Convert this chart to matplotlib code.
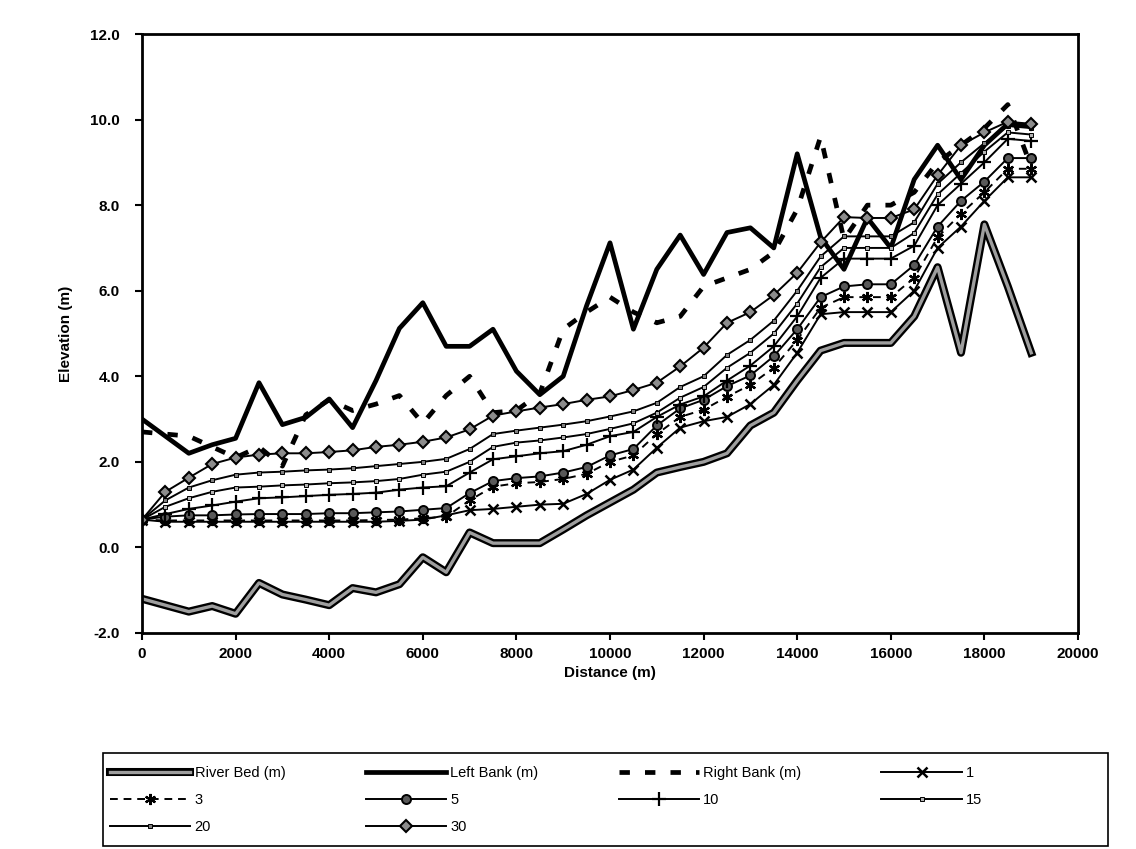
import matplotlib
matplotlib.use('Agg')
import matplotlib.pyplot as plt
from matplotlib.lines import Line2D
from matplotlib.patches import Rectangle

plt.rcParams['font.family'] = ['Liberation Sans', 'DejaVu Sans']

# distance along the river (m)
distance = [0, 500, 1000, 1500, 2000, 2500, 3000, 3500, 4000, 4500,
            5000, 5500, 6000, 6500, 7000, 7500, 8000, 8500, 9000, 9500,
            10000, 10500, 11000, 11500, 12000, 12500, 13000, 13500, 14000, 14500,
            15000, 15500, 16000, 16500, 17000, 17500, 18000, 18500, 19000]

river_bed = [-1.2, -1.35, -1.5, -1.37, -1.55, -0.83, -1.1, -1.22, -1.35, -0.95,
             -1.05, -0.86, -0.23, -0.58, 0.35, 0.1, 0.1, 0.1, 0.42, 0.75,
             1.05, 1.35, 1.75, 1.88, 2.0, 2.2, 2.85, 3.15, 3.9, 4.6,
             4.78, 4.78, 4.78, 5.4, 6.55, 4.55, 7.55, 6.1, 4.55]

left_bank = [3.0, 2.6, 2.2, 2.4, 2.55, 3.85, 2.87, 3.04, 3.47, 2.8,
             3.9, 5.12, 5.72, 4.7, 4.7, 5.1, 4.12, 3.57, 4.0, 5.65,
             7.12, 5.1, 6.5, 7.3, 6.38, 7.36, 7.47, 7.0, 9.2, 7.25,
             6.5, 7.7, 7.0, 8.6, 9.4, 8.6, 9.4, 9.9, 9.85]

right_bank = [2.7, 2.65, 2.6, 2.35, 2.1, 2.35, 1.9, 3.1, 3.45, 3.2,
              3.35, 3.55, 2.9, 3.55, 4.0, 3.15, 3.2, 3.6, 5.1, 5.5,
              5.85, 5.5, 5.25, 5.4, 6.1, 6.3, 6.5, 6.9, 7.9, 9.6,
              7.2, 8.0, 8.0, 8.3, 9.0, 9.4, 9.8, 10.35, 8.9]

q1 = [0.65, 0.6, 0.6, 0.6, 0.6, 0.6, 0.6, 0.6, 0.6, 0.6,
      0.6, 0.62, 0.65, 0.75, 0.87, 0.9, 0.95, 1.0, 1.02, 1.25,
      1.58, 1.82, 2.33, 2.8, 2.95, 3.05, 3.35, 3.8, 4.55, 5.45,
      5.5, 5.5, 5.5, 6.0, 7.0, 7.5, 8.1, 8.65, 8.65]

q3 = [0.65, 0.63, 0.63, 0.63, 0.63, 0.63, 0.63, 0.63, 0.63, 0.63,
      0.64, 0.65, 0.68, 0.72, 1.1, 1.42, 1.5, 1.53, 1.6, 1.72,
      2.0, 2.15, 2.65, 3.05, 3.22, 3.52, 3.8, 4.2, 4.85, 5.6,
      5.85, 5.85, 5.85, 6.3, 7.25, 7.8, 8.3, 8.85, 8.85]

q5 = [0.65, 0.72, 0.75, 0.75, 0.77, 0.78, 0.78, 0.78, 0.8, 0.8,
      0.82, 0.84, 0.88, 0.92, 1.27, 1.55, 1.62, 1.66, 1.75, 1.88,
      2.15, 2.3, 2.85, 3.25, 3.45, 3.77, 4.02, 4.47, 5.1, 5.85,
      6.1, 6.15, 6.15, 6.6, 7.5, 8.1, 8.55, 9.1, 9.1]

q10 = [0.65, 0.78, 0.9, 0.98, 1.07, 1.15, 1.17, 1.2, 1.23, 1.25,
       1.28, 1.35, 1.4, 1.43, 1.75, 2.06, 2.13, 2.2, 2.25, 2.4,
       2.6, 2.7, 3.05, 3.34, 3.53, 3.9, 4.25, 4.7, 5.4, 6.3,
       6.75, 6.75, 6.75, 7.05, 8.0, 8.5, 9.0, 9.55, 9.5]

q15 = [0.65, 0.95, 1.15, 1.3, 1.4, 1.42, 1.45, 1.47, 1.5, 1.52,
       1.55, 1.6, 1.7, 1.77, 2.0, 2.35, 2.45, 2.5, 2.57, 2.65,
       2.77, 2.9, 3.15, 3.5, 3.75, 4.2, 4.55, 5.0, 5.7, 6.55,
       7.0, 7.0, 7.0, 7.35, 8.25, 8.75, 9.25, 9.7, 9.65]

q20 = [0.65, 1.1, 1.4, 1.57, 1.7, 1.75, 1.77, 1.8, 1.82, 1.85,
       1.9, 1.95, 2.0, 2.07, 2.3, 2.65, 2.73, 2.8, 2.87, 2.95,
       3.06, 3.18, 3.38, 3.75, 4.0, 4.5, 4.85, 5.3, 6.0, 6.8,
       7.27, 7.27, 7.27, 7.6, 8.5, 9.0, 9.45, 9.85, 9.8]

q30 = [0.65, 1.3, 1.63, 1.95, 2.1, 2.17, 2.2, 2.2, 2.23, 2.27,
       2.35, 2.4, 2.47, 2.57, 2.76, 3.08, 3.18, 3.27, 3.35, 3.45,
       3.53, 3.68, 3.85, 4.23, 4.67, 5.25, 5.5, 5.9, 6.42, 7.13,
       7.72, 7.7, 7.7, 7.9, 8.7, 9.4, 9.7, 9.95, 9.9]

x_ticks = [0, 2000, 4000, 6000, 8000, 10000, 12000, 14000, 16000, 18000, 20000]
y_ticks = [-2, 0, 2, 4, 6, 8, 10, 12]

W, H = 1136, 849
fig = plt.figure(figsize=(W / 100, H / 100), dpi=100)
ax = fig.add_axes([142 / W, 1 - 633 / H, (1078 - 142) / W, (633 - 34) / H])

bed_out, = ax.plot(distance, river_bed, color='black', lw=5.8)
bed_in, = ax.plot(distance, river_bed, color='0.62', lw=2.4)
lb, = ax.plot(distance, left_bank, color='black', lw=3.4, label='Left Bank (m)')
rb, = ax.plot(distance, right_bank, color='black', lw=3.4, dashes=(2.2, 3.2),
              label='Right Bank (m)')

thin = dict(color='black', lw=1.4)
l1, = ax.plot(distance, q1, marker='x', ms=7, mew=1.8, label='1', **thin)
l3, = ax.plot(distance, q3, marker=(6, 2, 0), ms=8, mew=1.6, dashes=(4, 3),
              label='3', **thin)
l5, = ax.plot(distance, q5, marker='o', ms=6.5, mfc='0.35', mec='black', mew=1.4,
              label='5', **thin)
l10, = ax.plot(distance, q10, marker='+', ms=10, mew=1.6, label='10', **thin)
l15, = ax.plot(distance, q15, marker='s', ms=3, mfc='0.7', mec='black', mew=0.7,
               label='15', **thin)
l20, = ax.plot(distance, q20, marker='s', ms=3, mfc='0.5', mec='black', mew=0.7,
               label='20', **thin)
l30, = ax.plot(distance, q30, marker='D', ms=6.5, mfc='0.55', mec='black', mew=1.5,
               label='30', **thin)

ax.set_xlim(0, 20000)
ax.set_ylim(-2, 12)
ax.set_xticks(x_ticks)
ax.set_yticks(y_ticks)
ax.set_xticklabels([str(v) for v in x_ticks], fontsize=11, fontweight='bold')
ax.set_yticklabels(['%.1f' % v for v in y_ticks], fontsize=11, fontweight='bold')
ax.tick_params(direction='out', length=5, width=1.5)
ax.tick_params(axis='x', pad=5)
ax.tick_params(axis='y', pad=11)
for s in ax.spines.values():
    s.set_linewidth(2)
ax.set_xlabel('Distance (m)', fontsize=11, fontweight='bold', labelpad=4)
ax.set_ylabel('Elevation (m)', fontsize=11, fontweight='bold', labelpad=12)

blank = Line2D([], [], alpha=0)
handles = [(bed_out, bed_in), l3, l20,
           lb, l5, l30,
           rb, l10, blank,
           l1, l15, blank]
labels = ['River Bed (m)', '3', '20',
          'Left Bank (m)', '5', '30',
          'Right Bank (m)', '10', '',
          '1', '15', '']
fig.legend(handles, labels, ncol=4, loc='upper left',
           bbox_to_anchor=(97 / W, 1 - 753 / H), frameon=False,
           fontsize=10.5, handlelength=5.5, handletextpad=0.3,
           columnspacing=5.5, labelspacing=0.9)
fig.patches.append(Rectangle((103 / W, 1 - 846 / H), (1108 - 103) / W, (846 - 753) / H,
                             transform=fig.transFigure, fill=False,
                             edgecolor='black', lw=1.2))

fig.savefig('out.png', dpi=100)
